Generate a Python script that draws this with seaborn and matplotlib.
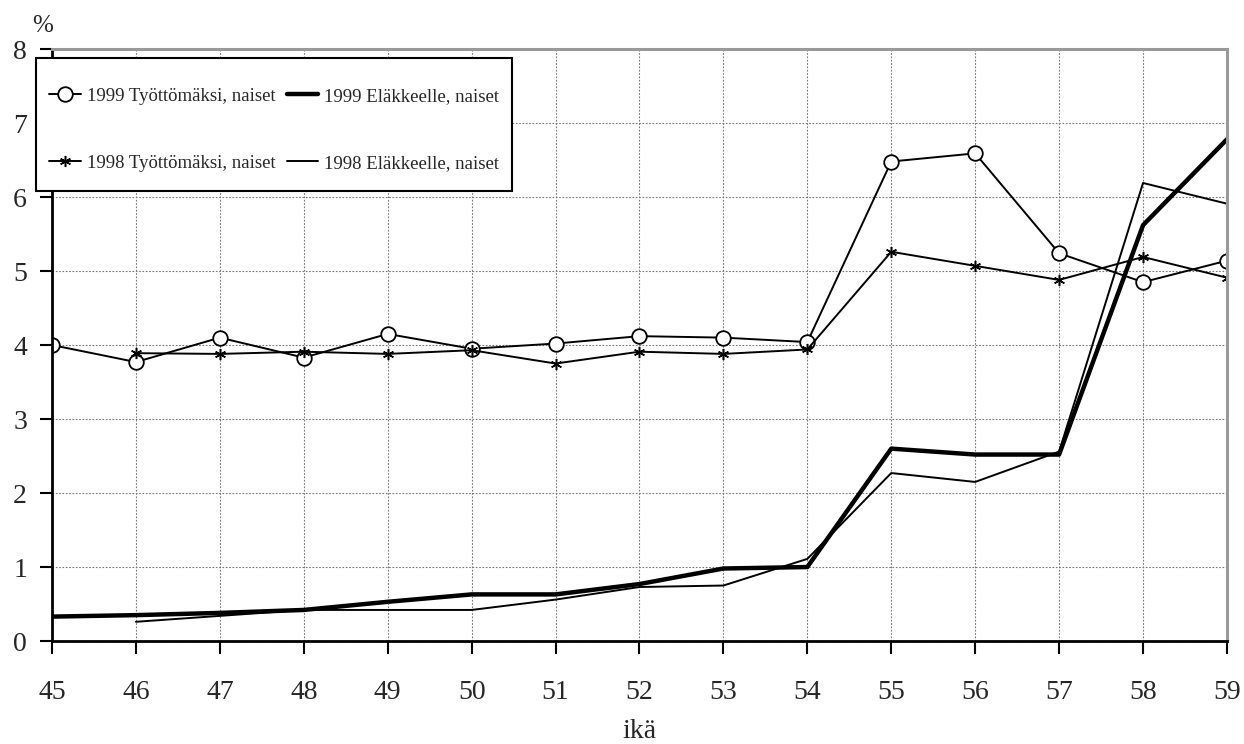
import numpy as np
import pandas as pd
import matplotlib
matplotlib.use('Agg')
import matplotlib.pyplot as plt
from matplotlib.transforms import Affine2D
import seaborn as sns

ika = list(range(45, 60))

# 1999 / 1998 transitions, women (%)
tyot_1999 = [4.00, 3.77, 4.10, 3.83, 4.15, 3.95, 4.02, 4.12, 4.10, 4.04, 6.48, 6.59, 5.24, 4.85, 5.14]
tyot_1998 = [np.nan, 3.89, 3.88, 3.91, 3.88, 3.93, 3.75, 3.91, 3.88, 3.94, 5.26, 5.07, 4.88, 5.19, 4.91]
elak_1999 = [0.33, 0.35, 0.38, 0.42, 0.53, 0.63, 0.63, 0.77, 0.98, 1.00, 2.60, 2.52, 2.52, 5.62, 6.78]
elak_1998 = [np.nan, 0.26, 0.34, 0.42, 0.42, 0.42, 0.56, 0.73, 0.75, 1.11, 2.27, 2.15, 2.56, 6.19, 5.91]

df = pd.DataFrame({'ika': ika, 'tyot_1999': tyot_1999, 'tyot_1998': tyot_1998,
                   'elak_1999': elak_1999, 'elak_1998': elak_1998})

sns.set_style('white')
plt.rcParams['font.family'] = ['Liberation Serif', 'DejaVu Serif']

fig = plt.figure(figsize=(12.44, 7.44), dpi=100)
ax = fig.add_axes([0.0418, 0.1384, 0.9445, 0.7957])

asterisk = (6, 2, 0)

sns.lineplot(data=df, x='ika', y='tyot_1999', ax=ax, color='black', lw=1.4,
             marker='o', markersize=10.5, markerfacecolor='white', markeredgecolor='black',
             markeredgewidth=1.3, label='1999 Työttömäksi, naiset')
sns.lineplot(data=df, x='ika', y='tyot_1998', ax=ax, color='black', lw=1.4,
             marker=asterisk, markersize=8, markeredgecolor='black', markeredgewidth=1.1,
             label='1998 Työttömäksi, naiset')
sns.lineplot(data=df, x='ika', y='elak_1999', ax=ax, color='black', lw=3.2,
             label='1999 Eläkkeelle, naiset')
sns.lineplot(data=df, x='ika', y='elak_1998', ax=ax, color='black', lw=1.4,
             label='1998 Eläkkeelle, naiset')

ax.set_xlim(45, 59)
ax.set_ylim(0, 8)
ax.set_xticks(ika)
ax.set_yticks(range(0, 9))
ax.grid(True, color='#777777', ls=(0, (1.5, 1.5)), lw=0.8)
ax.tick_params(axis='both', labelsize=20, direction='out', length=9, width=1.5,
               color='black', left=True, bottom=True)
ax.tick_params(axis='x', pad=19)
ax.tick_params(axis='y', pad=9)

for s in ['left', 'bottom']:
    ax.spines[s].set_color('black')
    ax.spines[s].set_linewidth(2.0)
for s in ['top', 'right']:
    ax.spines[s].set_color('#999999')
    ax.spines[s].set_linewidth(2.2)

ax.set_xlabel('ikä', fontsize=20, labelpad=10)
ax.set_ylabel('')
fig.text(0.026, 0.965, '%', fontsize=18, ha='left', va='center')

leg = ax.legend(ncol=2, loc='upper left', bbox_to_anchor=(-0.0136, 0.9848), fontsize=13.5,
                frameon=True, fancybox=False, edgecolor='black', framealpha=1,
                borderaxespad=0, handlelength=1.7, handleheight=2.9,
                handletextpad=0.3, columnspacing=0.6,
                labelspacing=1.45, borderpad=0.7)
leg.get_frame().set_linewidth(1.5)
# centre the entries vertically in their rows
for t in leg.get_texts():
    t.set_transform(t.get_transform() + Affine2D().translate(0, -4))
for h in leg.legend_handles:
    h.set_transform(h.get_transform() + Affine2D().translate(0, -10))

fig.savefig('out.png', dpi=100)
